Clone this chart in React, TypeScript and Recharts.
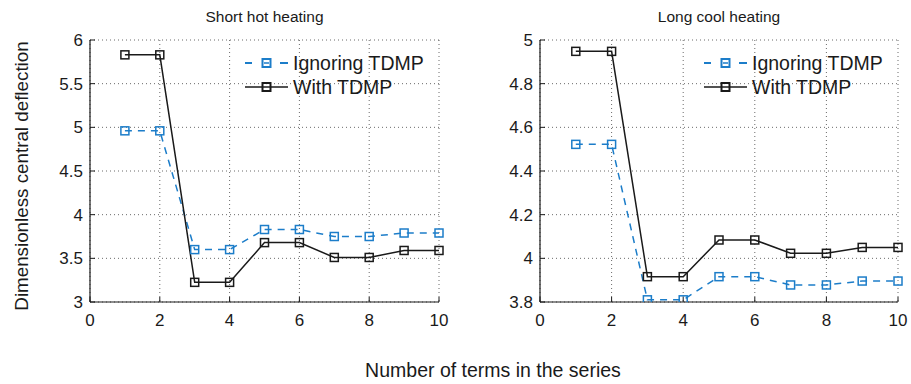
import React, { useLayoutEffect } from 'react';
import { LineChart, Line, XAxis, YAxis, CartesianGrid } from 'recharts';

// number of terms in the series
const terms = [1, 2, 3, 4, 5, 6, 7, 8, 9, 10];
const xTicks = [0, 2, 4, 6, 8, 10];

// short hot heating
const shortIgnoring = [4.96, 4.96, 3.6, 3.6, 3.83, 3.83, 3.75, 3.75, 3.79, 3.79];
const shortWith = [5.83, 5.83, 3.225, 3.225, 3.68, 3.68, 3.51, 3.51, 3.59, 3.59];
const shortTicks = [3, 3.5, 4, 4.5, 5, 5.5, 6];

// long cool heating
const longIgnoring = [4.522, 4.522, 3.81, 3.81, 3.916, 3.916, 3.878, 3.878, 3.896, 3.896];
const longWith = [4.948, 4.948, 3.916, 3.916, 4.084, 4.084, 4.023, 4.023, 4.05, 4.05];
const longTicks = [3.8, 4, 4.2, 4.4, 4.6, 4.8, 5];

const BLUE = '#1c7dc9';
const BLACK = '#1a1a1a';
const FONT = '"Liberation Sans", Arial, Helvetica, sans-serif';

const buildRows = (ignoring: number[], withT: number[]) =>
  terms.map((n, i) => ({ n, ignoring: ignoring[i], withT: withT[i] }));

const squareDot = (color: string) => (props: any) => {
  const { cx, cy, index } = props;
  if (cx == null || cy == null) return <g key={index} />;
  return (
    <rect
      key={index}
      x={cx - 4}
      y={cy - 4}
      width={8}
      height={8}
      fill="none"
      stroke={color}
      strokeWidth={1.5}
    />
  );
};

// matlab style legend, no box
function LegendBox({ left }: { left: number }) {
  const text = { marginLeft: 3, fontSize: 19.5, color: BLACK, lineHeight: '24px' };
  return (
    <div style={{ position: 'absolute', left, top: 51 }}>
      <div style={{ display: 'flex', alignItems: 'center', height: 24 }}>
        <svg width={46} height={14}>
          <line x1={1} y1={7} x2={8} y2={7} stroke={BLUE} strokeWidth={2} />
          <line x1={36} y1={7} x2={44} y2={7} stroke={BLUE} strokeWidth={2} />
          <rect x={18.5} y={3} width={8} height={8} fill="none" stroke={BLUE} strokeWidth={2} />
          <line x1={20} y1={7} x2={25} y2={7} stroke={BLUE} strokeWidth={1.5} />
        </svg>
        <span style={text}>Ignoring TDMP</span>
      </div>
      <div style={{ display: 'flex', alignItems: 'center', height: 24 }}>
        <svg width={46} height={14}>
          <line x1={1} y1={7} x2={44} y2={7} stroke={BLACK} strokeWidth={1.5} />
          <rect x={18.5} y={3} width={8} height={8} fill="none" stroke={BLACK} strokeWidth={2} />
        </svg>
        <span style={text}>With TDMP</span>
      </div>
    </div>
  );
}

interface PanelProps {
  left: number;
  width: number;
  marginRight: number;
  title: string;
  ignoring: number[];
  withT: number[];
  yTicks: number[];
  legendLeft: number;
}

function Panel({ left, width, marginRight, title, ignoring, withT, yTicks, legendLeft }: PanelProps) {
  const data = buildRows(ignoring, withT);
  const yDomain = [yTicks[0], yTicks[yTicks.length - 1]];
  const plotLeft = 90;
  const plotRight = width - marginRight;
  const tickStyle = { fontSize: 17, fill: BLACK, fontFamily: FONT };

  return (
    <div style={{ position: 'absolute', left, top: 0, width, height: 340 }}>
      <div
        style={{
          position: 'absolute',
          top: 8,
          left: plotLeft,
          width: plotRight - plotLeft,
          textAlign: 'center',
          fontSize: 15.5,
          color: BLACK,
        }}
      >
        {title}
      </div>
      <LineChart
        width={width}
        height={340}
        data={data}
        margin={{ top: 40, right: marginRight, bottom: 8, left: 50 }}
        style={{ overflow: 'visible' }}
      >
        <CartesianGrid stroke="#444" strokeDasharray="1 3" strokeWidth={0.8} />
        <XAxis
          dataKey="n"
          type="number"
          domain={[0, 10]}
          ticks={xTicks}
          height={30}
          tickSize={-5}
          tickMargin={17}
          tick={tickStyle}
          stroke={BLACK}
          axisLine={{ stroke: BLACK, strokeWidth: 1.2 }}
        />
        <XAxis
          xAxisId="top"
          orientation="top"
          type="number"
          domain={[0, 10]}
          ticks={xTicks}
          height={0}
          tickSize={-5}
          tickFormatter={() => ''}
          stroke={BLACK}
          axisLine={{ stroke: BLACK, strokeWidth: 1.2 }}
        />
        <YAxis
          type="number"
          domain={yDomain}
          ticks={yTicks}
          width={40}
          tickSize={-5}
          tickMargin={12}
          tick={tickStyle}
          stroke={BLACK}
          axisLine={{ stroke: BLACK, strokeWidth: 1.2 }}
          allowDataOverflow
        />
        <YAxis
          yAxisId="right"
          orientation="right"
          type="number"
          domain={yDomain}
          ticks={yTicks}
          width={0}
          tickSize={-5}
          tickFormatter={() => ''}
          stroke={BLACK}
          axisLine={{ stroke: BLACK, strokeWidth: 1.2 }}
        />
        <Line
          dataKey="ignoring"
          stroke={BLUE}
          strokeWidth={1.5}
          strokeDasharray="7 6"
          dot={squareDot(BLUE)}
          activeDot={false}
          isAnimationActive={false}
        />
        <Line
          dataKey="withT"
          stroke={BLACK}
          strokeWidth={1.5}
          dot={squareDot(BLACK)}
          activeDot={false}
          isAnimationActive={false}
        />
      </LineChart>
      <LegendBox left={legendLeft} />
    </div>
  );
}

export default function App() {
  useLayoutEffect(() => {
    document.body.style.margin = '0';
  }, []);

  return (
    <div
      style={{
        position: 'relative',
        width: 911,
        height: 384,
        background: '#fff',
        fontFamily: FONT,
      }}
    >
      <Panel
        left={0}
        width={460}
        marginRight={21}
        title="Short hot heating"
        ignoring={shortIgnoring}
        withT={shortWith}
        yTicks={shortTicks}
        legendLeft={244}
      />
      <Panel
        left={450}
        width={461}
        marginRight={13}
        title="Long cool heating"
        ignoring={longIgnoring}
        withT={longWith}
        yTicks={longTicks}
        legendLeft={253}
      />
      <div
        style={{
          position: 'absolute',
          left: 22,
          top: 176,
          transform: 'translate(-50%, -50%) rotate(-90deg)',
          whiteSpace: 'nowrap',
          fontSize: 18.8,
          color: BLACK,
        }}
      >
        Dimensionless central deflection
      </div>
      <div
        style={{
          position: 'absolute',
          left: 493,
          top: 370,
          transform: 'translate(-50%, -50%)',
          whiteSpace: 'nowrap',
          fontSize: 19.5,
          color: BLACK,
        }}
      >
        Number of terms in the series
      </div>
    </div>
  );
}
